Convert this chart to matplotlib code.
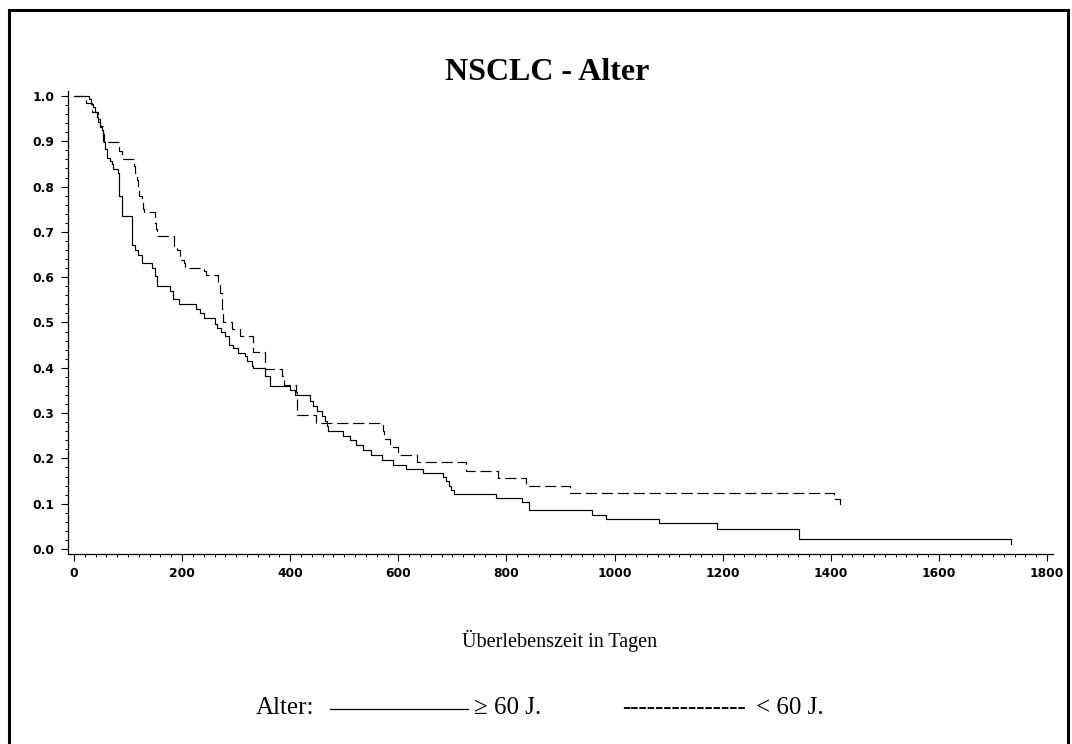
import matplotlib.pyplot as plt
from matplotlib.lines import Line2D
from matplotlib.patches import Rectangle
from matplotlib.ticker import MultipleLocator, FormatStrFormatter

# Kaplan-Meier Schätzung, Alter >= 60 J.
tage_alt = [0, 28, 31, 35, 39, 42, 45, 48, 51, 54, 56, 58, 61, 66, 70, 73, 82, 84, 89,
            108, 113, 119, 125, 144, 150, 153, 177, 184, 195, 225, 233, 241, 261, 264,
            272, 279, 286, 295, 304, 316, 320, 329, 332, 353, 362, 400, 409, 437, 443,
            449, 458, 464, 468, 470, 498, 510, 522, 535, 550, 570, 590, 615, 646, 683,
            688, 694, 698, 703, 780, 828, 842, 958, 985, 1082, 1189, 1341, 1733]
surv_alt = [1.0, 0.993, 0.982, 0.975, 0.964, 0.953, 0.942, 0.931, 0.924, 0.916, 0.898,
            0.882, 0.864, 0.857, 0.850, 0.838, 0.831, 0.780, 0.735, 0.672, 0.661, 0.650,
            0.632, 0.621, 0.602, 0.580, 0.569, 0.551, 0.540, 0.530, 0.521, 0.510, 0.496,
            0.488, 0.479, 0.470, 0.451, 0.444, 0.433, 0.425, 0.414, 0.403, 0.399, 0.381,
            0.359, 0.350, 0.341, 0.326, 0.315, 0.304, 0.293, 0.282, 0.271, 0.260, 0.250,
            0.240, 0.230, 0.219, 0.208, 0.197, 0.186, 0.176, 0.167, 0.160, 0.150, 0.140,
            0.131, 0.122, 0.112, 0.104, 0.086, 0.075, 0.066, 0.057, 0.044, 0.022, 0.012]

# Alter < 60 J.
tage_jung = [0, 22, 33, 44, 49, 54, 83, 89, 111, 113, 117, 119, 121, 125, 128, 130, 150,
             152, 154, 185, 190, 196, 203, 205, 240, 245, 267, 270, 273, 275, 292, 307,
             331, 354, 385, 388, 410, 412, 447, 571, 574, 585, 600, 634, 725, 785, 837,
             917, 1405, 1417]
surv_jung = [1.0, 0.985, 0.964, 0.950, 0.934, 0.898, 0.879, 0.860, 0.846, 0.831, 0.815,
             0.794, 0.780, 0.765, 0.750, 0.743, 0.720, 0.706, 0.691, 0.669, 0.661, 0.639,
             0.632, 0.621, 0.613, 0.604, 0.588, 0.566, 0.530, 0.502, 0.485, 0.470, 0.434,
             0.398, 0.381, 0.363, 0.347, 0.296, 0.278, 0.260, 0.243, 0.225, 0.208, 0.191,
             0.173, 0.157, 0.139, 0.123, 0.110, 0.088]

W, H = 1072, 744
fig = plt.figure(figsize=(W / 100, H / 100), dpi=100)

# Rahmen um die Grafik
fig.add_artist(Rectangle((8.5 / W, -0.05), (1067.5 - 8.5) / W, 1.05 - 9.5 / H,
                         transform=fig.transFigure, fill=False, lw=2.2, ec='black'))

ax = fig.add_axes([67.5 / W, 1 - 554 / H, (1053 - 67.5) / W, (554 - 91) / H])

ax.step(tage_alt, surv_alt, where='post', color='black', lw=0.85)
ax.step(tage_jung, surv_jung, where='post', color='black', lw=0.85, dashes=(9.5, 4))

ax.set_xlim(-12, 1811)
ax.set_ylim(-0.011, 1.011)
ax.spines['top'].set_visible(False)
ax.spines['right'].set_visible(False)
ax.spines['left'].set_linewidth(0.9)
ax.spines['bottom'].set_linewidth(0.9)

ax.xaxis.set_major_locator(MultipleLocator(200))
ax.xaxis.set_minor_locator(MultipleLocator(20))
ax.yaxis.set_major_locator(MultipleLocator(0.1))
ax.yaxis.set_minor_locator(MultipleLocator(0.02))
ax.yaxis.set_major_formatter(FormatStrFormatter('%.1f'))
ax.tick_params(which='major', length=5, width=0.8, pad=4.5)
ax.tick_params(which='minor', length=2.5, width=0.7)
for lab in ax.get_xticklabels() + ax.get_yticklabels():
    lab.set_fontweight('bold')
    lab.set_fontsize(8.8)
    lab.set_family('DejaVu Sans')

serif = 'Liberation Serif'
fig.text(547.5 / W, 1 - 72 / H, 'NSCLC - Alter', ha='center', va='center',
         fontsize=23, fontweight='bold', family=serif)
fig.text(560 / W, 1 - 641 / H, 'Überlebenszeit in Tagen', ha='center', va='center',
         fontsize=14.5, family=serif)

# Legende als Textzeile
ly = 1 - 708 / H
fs = 18
fig.text(256 / W, ly, 'Alter:', ha='left', va='center', fontsize=fs, family=serif)
fig.add_artist(Line2D([330 / W, 468 / W], [ly - 1 / H, ly - 1 / H],
                      transform=fig.transFigure, color='black', lw=0.9))
fig.text(474 / W, ly, '≥ 60 J.', ha='left', va='center', fontsize=fs, family=serif)
fig.text(622 / W, ly, '---------------', ha='left', va='center', fontsize=fs, family=serif)
fig.text(756 / W, ly, '< 60 J.', ha='left', va='center', fontsize=fs, family=serif)

fig.savefig('out.png', dpi=100)
